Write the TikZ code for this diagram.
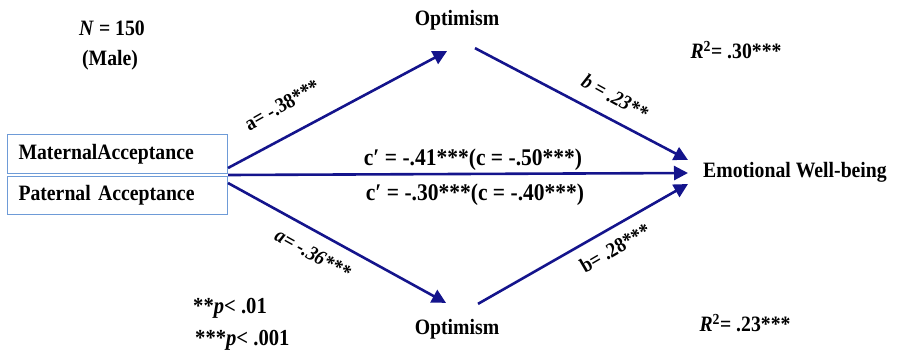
\documentclass[tikz,border=0pt]{standalone}
\usepackage{fontspec}
\setmainfont{Liberation Serif}[FakeStretch=0.9]
\usetikzlibrary{arrows.meta,calc}
\definecolor{arrowblue}{RGB}{20,20,140}
\definecolor{boxblue}{RGB}{110,155,215}
\begin{document}
\begin{tikzpicture}[x=1bp,y=-1bp,
  txt/.style={font=\fontsize{22}{26}\selectfont\bfseries, inner sep=0pt},
  lbl/.style={font=\fontsize{21}{24}\selectfont\bfseries, inner sep=0pt},
  clbl/.style={font=\fontsize{24}{26}\selectfont\bfseries, inner sep=0pt},
  conn/.style={draw=arrowblue, line width=2.6bp, -{Triangle[length=14bp,width=14bp]}},
  vbox/.style={draw=boxblue, line width=1bp, minimum height=39bp, inner ysep=0pt,
    inner xsep=11bp, text width=198bp, align=left, anchor=north west,
    font=\fontsize{22}{26}\selectfont\bfseries}
]
\useasboundingbox (0,0) rectangle (897,352);

% boxes
\node[vbox] (mat) at (7,134) {MaternalAcceptance};
\node[vbox, minimum height=38bp] (pat) at (7,176) {Paternal Acceptance};

% variables
\node[txt] (opt1) at (457,20) {Optimism};
\node[txt] (opt2) at (457,329) {Optimism};
\node[txt, anchor=west] (ewb) at (703,172) {Emotional Well-being};

% connector ends
\coordinate (s1) at ($(mat.south east)+(0,-6)$);
\coordinate (s2) at ($(mat.south east)!0.5!(pat.north east)$);
\coordinate (s3) at ($(pat.north east)+(0,7)$);
\coordinate (t1) at ($(opt1.south)+(-10,21)$);
\coordinate (u1) at ($(opt1.south)+(18,18)$);
\coordinate (t3) at ($(opt2.north)+(-11,-16)$);
\coordinate (u3) at ($(opt2.north)+(21,-15)$);
\coordinate (e1) at ($(ewb.west)+(-15,-12)$);
\coordinate (e2) at ($(ewb.west)+(-15,1)$);
\coordinate (e3) at ($(ewb.west)+(-15,12)$);

\draw[conn] (s1) -- (t1);
\draw[conn] (u1) -- (e1);
\draw[conn] (s2) -- (e2);
\draw[conn] (s3) -- (t3);
\draw[conn] (u3) -- (e3);

% path labels
\node[lbl, rotate=29.5] (la) at (282,105) {a= -.38***};
\node[lbl, rotate=-29.2] (la2) at (313,254) {\itshape a= -.36***};
\node[lbl, rotate=-29] (lb) at (615,97) {\itshape b = .23**};
\node[lbl, rotate=30.2] (lb2) at (615,248) {b= .28***};
\node[clbl] (lc1) at (473,160) {c′ = -.41***(c = -.50***)};
\node[clbl] (lc2) at (475,195) {c′ = -.30***(c = -.40***)};

% statistics
\node[txt] (n) at (112,28) {\textit{N} = 150};
\node[txt] (male) at (110,60) {(Male)};
\node[txt] (r1) at (736,50) {\textit{R}\textsuperscript{2}= .30***};
\node[txt] (r2) at (745,323) {\textit{R}\textsuperscript{2}= .23***};
\node[txt, font=\fontsize{23}{26}\selectfont\bfseries, anchor=west] (p1) at (193,308) {**\textit{p}< .01};
\node[txt, font=\fontsize{23}{26}\selectfont\bfseries, anchor=west] (p2) at (195,340) {***\textit{p}< .001};
\end{tikzpicture}
\end{document}
